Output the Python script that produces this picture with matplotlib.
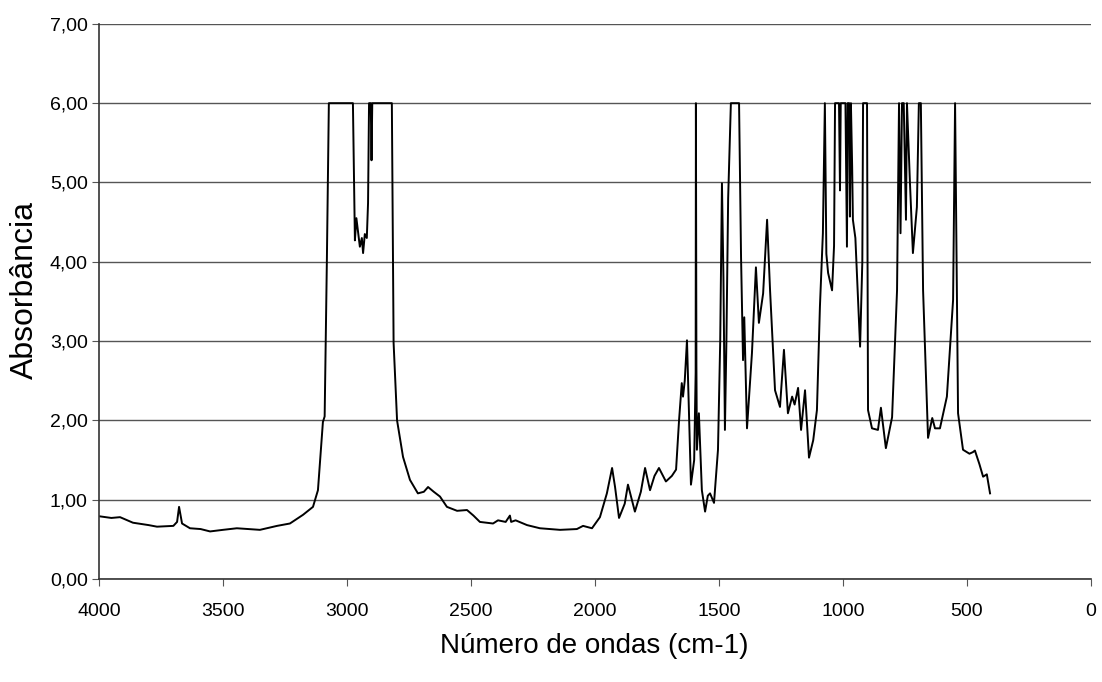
import numpy as np
import matplotlib.pyplot as plt
from matplotlib.ticker import FuncFormatter

# ── DATA (high -> low wavenumber) ────────────────────────────────────
# 4000-3070 cm-1 : baseline up to the C-H band
wn_high = [3996, 3950, 3915, 3863, 3800, 3766, 3700, 3685, 3677, 3665,
           3633, 3590, 3552, 3500, 3444, 3400, 3351, 3282, 3230, 3177,
           3137, 3117, 3105, 3097, 3090, 3081, 3073]
ab_high = [0.79, 0.77, 0.78, 0.71, 0.68, 0.66, 0.67, 0.72, 0.91, 0.70,
           0.64, 0.63, 0.60, 0.62, 0.64, 0.63, 0.62, 0.67, 0.70, 0.81,
           0.91, 1.12, 1.63, 1.98, 2.05, 4.02, 6.00]

# 2980-2010 cm-1 : saturated C-H band and the flat region after it
wn_ch = [2976, 2968, 2962, 2948, 2940, 2935, 2928, 2920, 2915, 2911,
         2904, 2901, 2898, 2819, 2812, 2798, 2774, 2746, 2714, 2690,
         2673, 2650, 2625, 2597, 2556, 2516, 2490, 2464, 2411, 2391,
         2360, 2343, 2338, 2320, 2274, 2222, 2141, 2073, 2048, 2012]
ab_ch = [6.00, 4.27, 4.55, 4.19, 4.30, 4.11, 4.35, 4.30, 4.74, 6.00,
         6.00, 5.28, 6.00, 6.00, 2.98, 2.00, 1.54, 1.25, 1.08, 1.10,
         1.16, 1.10, 1.04, 0.91, 0.86, 0.87, 0.80, 0.72, 0.70, 0.74,
         0.72, 0.80, 0.72, 0.74, 0.68, 0.64, 0.62, 0.63, 0.67, 0.64]

# 2000-1100 cm-1
wn_mid = [1980, 1952, 1931, 1919, 1903, 1880, 1867, 1839, 1815, 1798,
          1778, 1760, 1742, 1714, 1690, 1673, 1661, 1650, 1645, 1638,
          1629, 1622, 1613, 1600, 1594, 1593, 1591, 1589, 1581, 1569,
          1556, 1545, 1536, 1520, 1504, 1495, 1488, 1482, 1476, 1470,
          1463, 1452, 1419, 1411, 1406, 1403, 1398, 1387, 1367, 1351,
          1339, 1322, 1306, 1294, 1274, 1254, 1238, 1222, 1205, 1195,
          1181, 1169, 1153, 1137, 1120, 1105]
ab_mid = [0.78, 1.08, 1.40, 1.16, 0.77, 0.95, 1.19, 0.85, 1.10, 1.40,
          1.12, 1.30, 1.40, 1.23, 1.30, 1.38, 2.00, 2.47, 2.30, 2.50,
          3.01, 2.20, 1.19, 1.50, 2.60, 6.00, 2.70, 1.63, 2.09, 1.12,
          0.85, 1.05, 1.08, 0.96, 1.63, 3.00, 4.99, 3.80, 1.88, 3.00,
          4.80, 6.00, 6.00, 4.06, 3.23, 2.76, 3.30, 1.90, 2.85, 3.93,
          3.23, 3.60, 4.53, 3.64, 2.38, 2.17, 2.89, 2.09, 2.30, 2.20,
          2.41, 1.88, 2.38, 1.53, 1.75, 2.13]

# 1100-400 cm-1
wn_low = [1093, 1081, 1073, 1067, 1060, 1044, 1036, 1032, 1016, 1012,
          1009, 990, 984, 981, 975, 972, 968, 963, 960, 950,
          931, 922, 919, 903, 899, 883, 859, 847, 827, 802,
          782, 774, 768, 762, 755, 746, 742, 730, 718, 702,
          694, 686, 677, 657, 640, 629, 609, 581, 556, 548,
          536, 516, 490, 476, 468, 450, 435, 420, 407]
ab_low = [3.43, 4.36, 6.00, 4.10, 3.86, 3.64, 4.20, 6.00, 6.00, 4.90,
          6.00, 6.00, 4.19, 6.00, 6.00, 4.57, 6.00, 5.20, 4.53, 4.30,
          2.93, 4.00, 6.00, 6.00, 2.13, 1.90, 1.88, 2.16, 1.65, 2.04,
          3.64, 6.00, 4.36, 6.00, 6.00, 4.53, 6.00, 5.00, 4.11, 4.69,
          6.00, 6.00, 3.64, 1.78, 2.03, 1.90, 1.90, 2.30, 3.52, 6.00,
          2.09, 1.63, 1.58, 1.60, 1.62, 1.45, 1.29, 1.32, 1.08]

wavenumber = wn_high + wn_ch + wn_mid + wn_low
absorbance = ab_high + ab_ch + ab_mid + ab_low

# ── CHART ───────────────────────────────────────────────────
plt.rcParams['font.family'] = ['Liberation Sans', 'DejaVu Sans']

fig = plt.figure(figsize=(11.02, 6.82), dpi=100)
ax = fig.add_axes([0.0898, 0.151, 0.9002, 0.814])

ax.plot(wavenumber, absorbance, color='black', linewidth=1.4)

ax.set_xlim(4000, 0)
ax.set_ylim(0, 7)
ax.set_xticks(np.arange(4000, -1, -500))
ax.set_yticks(np.arange(0, 8, 1))
ax.yaxis.set_major_formatter(FuncFormatter(lambda v, _: f'{v:.2f}'.replace('.', ',')))

ax.grid(axis='y', color='#555555', linewidth=1.0)
ax.set_axisbelow(True)
for s in ['top', 'right']:
    ax.spines[s].set_visible(False)
for s in ['left', 'bottom']:
    ax.spines[s].set_color('#333333')
    ax.spines[s].set_linewidth(1.2)

ax.tick_params(axis='both', labelsize=14, length=5, color='#555555')
ax.tick_params(axis='y', pad=3)
ax.tick_params(axis='x', pad=12)

# axis titles placed in figure pixels, like the reference
fig.text(25 / 1102, 1 - 290 / 682, 'Absorbância', fontsize=23,
         rotation=90, ha='center', va='center')
fig.text(594 / 1102, 1 - 646 / 682, 'Número de ondas (cm-1)', fontsize=20,
         ha='center', va='center')

fig.savefig('out.png', dpi=100, facecolor='white')
